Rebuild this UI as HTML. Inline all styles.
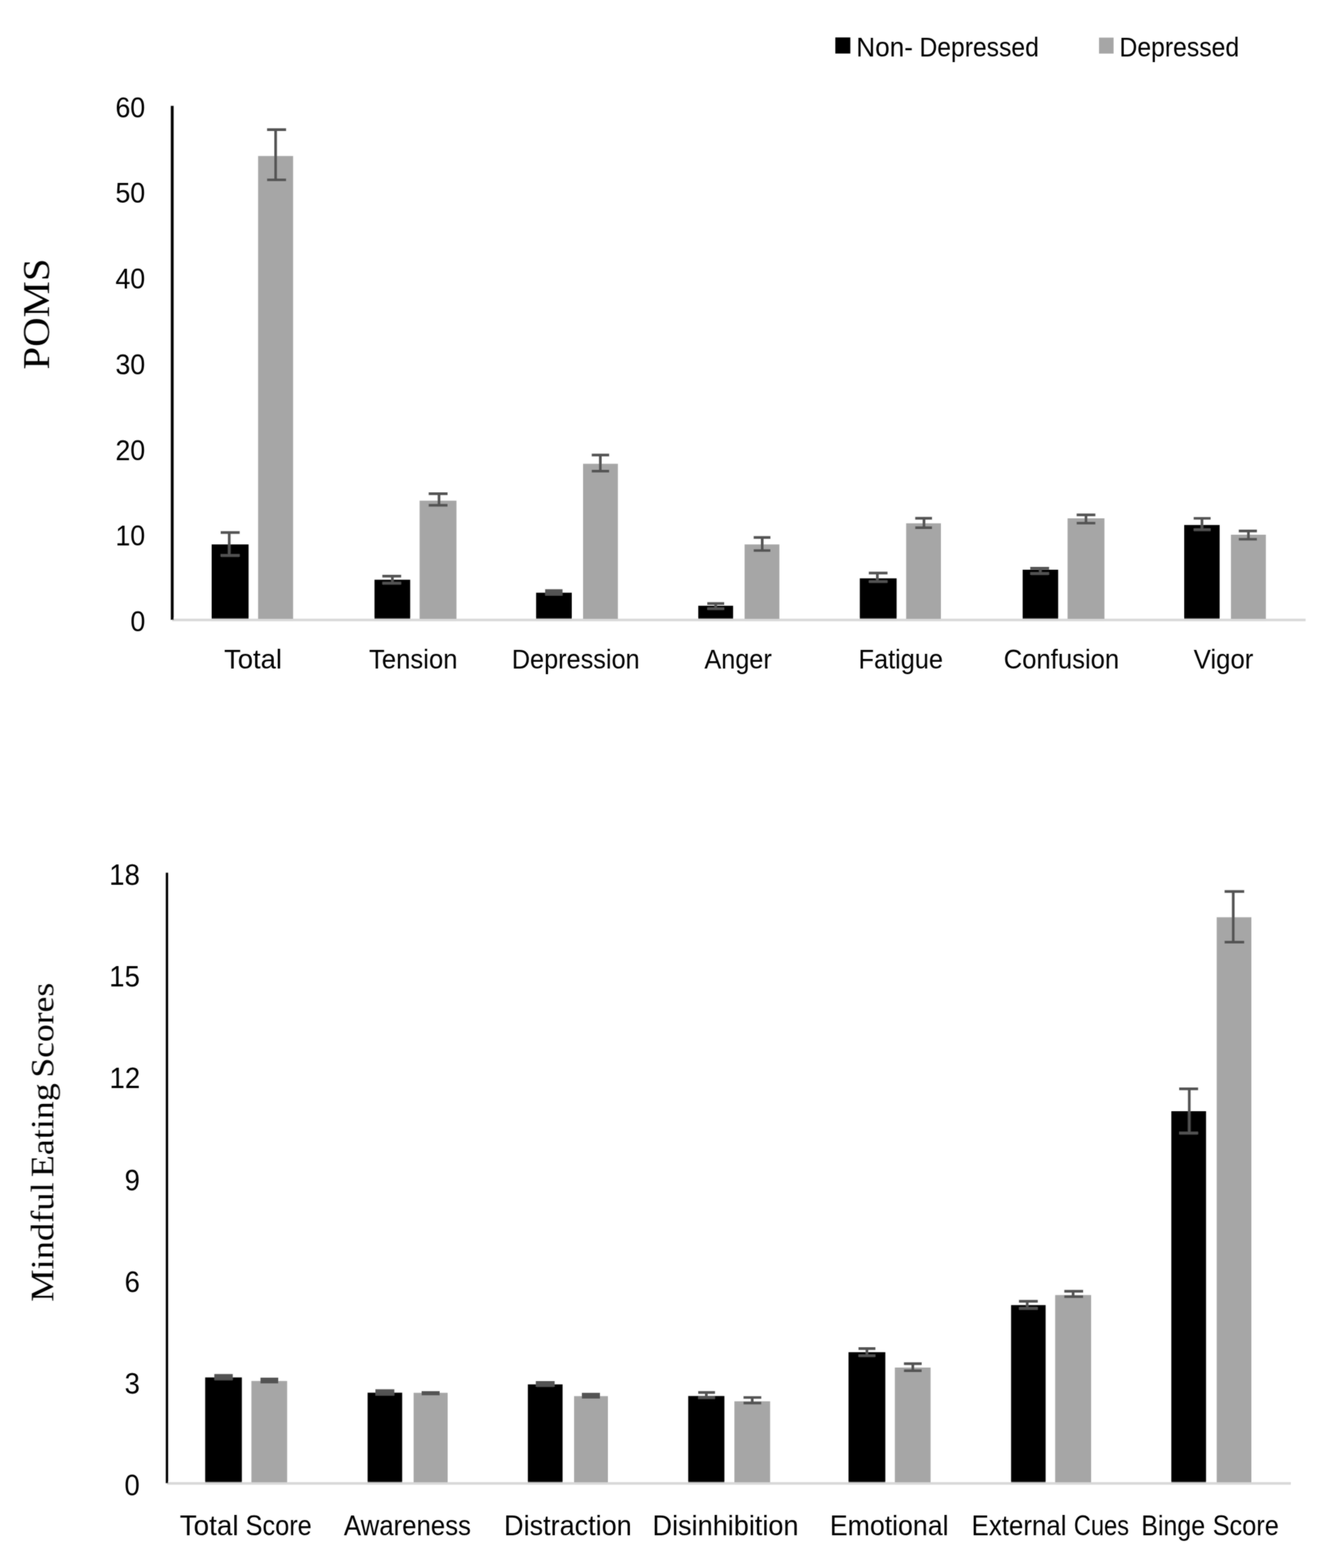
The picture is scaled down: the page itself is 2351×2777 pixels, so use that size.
<!DOCTYPE html>
<html lang="en"><head><meta charset="utf-8"><title>POMS and Mindful Eating Scores by depression group</title>
<style>html,body{margin:0;padding:0;background:#fff}body{width:2351px;height:2777px;overflow:hidden}svg{display:block}text{fill:#000}.t{font-family:'Liberation Sans',sans-serif}.s{font-family:'Liberation Serif',serif}.e path{stroke:#525252;stroke-width:4.7;fill:none}.e .f{stroke:none;fill:#525252}</style></head><body>
<svg width="2351" height="2777" viewBox="0 0 2351 2777" role="img" aria-label="Bar charts of POMS and Mindful Eating Scores for Non-Depressed and Depressed groups">
<rect width="2351" height="2777" fill="#fff"/>
<defs><filter id="soft" filterUnits="userSpaceOnUse" x="0" y="0" width="2351" height="2777"><feGaussianBlur stdDeviation="0.9" result="b"/><feComposite in="SourceGraphic" in2="b" operator="arithmetic" k1="0" k2="0.5" k3="0.5" k4="0"/></filter></defs>
<g filter="url(#soft)">
<g>
<rect x="1479.9" y="66.3" width="26.6" height="28.5" fill="#000"/>
<text class="t" y="100" font-size="48.4"><tspan x="1517.1" lengthAdjust="spacingAndGlyphs" textLength="100.37">Non-</tspan> <tspan x="1628.9" lengthAdjust="spacingAndGlyphs" textLength="211.59">Depressed</tspan></text>
<rect x="1947.1" y="66.6" width="25.8" height="28.3" fill="#a6a6a6"/>
<text class="t" x="1983.19" y="100" font-size="48.4" lengthAdjust="spacingAndGlyphs" textLength="212.2">Depressed</text>
</g>
<g>
<rect x="305.1" y="1095.7" width="2008" height="4.6" fill="#d9d9d9"/>
<rect x="375" y="964.2" width="65.4" height="131.8" fill="#000"/>
<rect x="457.3" y="276.3" width="62" height="819.7" fill="#a6a6a6"/>
<rect x="663.5" y="1026.7" width="63.2" height="69.3" fill="#000"/>
<rect x="743.4" y="886.7" width="65.3" height="209.3" fill="#a6a6a6"/>
<rect x="949.8" y="1049.7" width="63.2" height="46.3" fill="#000"/>
<rect x="1033" y="821.4" width="61.7" height="274.6" fill="#a6a6a6"/>
<rect x="1237.1" y="1072.8" width="61.7" height="23.2" fill="#000"/>
<rect x="1319.2" y="964.2" width="61.6" height="131.8" fill="#a6a6a6"/>
<rect x="1523.3" y="1024.3" width="65.2" height="71.7" fill="#000"/>
<rect x="1605.4" y="926.8" width="61.6" height="169.2" fill="#a6a6a6"/>
<rect x="1811.8" y="1009" width="62.9" height="87" fill="#000"/>
<rect x="1891.4" y="918" width="65.3" height="178" fill="#a6a6a6"/>
<rect x="2098" y="929.8" width="62.8" height="166.2" fill="#000"/>
<rect x="2180.8" y="947" width="61.9" height="149" fill="#a6a6a6"/>
<g class="e">
<path d="M391 943.2H424.6M391 983.7H424.6M406.1 943.2V983.7"/>
<path d="M473.2 229.6H506.8M473.2 318.5H506.8M488.3 229.6V318.5"/>
<path d="M677.4 1020.3H710.7M677.4 1032.8H710.7M695.2 1020.3V1032.8"/>
<path d="M759.5 874.4H792.9M759.5 894.8H792.9M777.8 874.4V894.8"/>
<path class="f" d="M965.8 1043.6H996.6V1054.9H965.8Z"/>
<path d="M1048.4 805.8H1079.2M1048.4 834.3H1079.2M1063.6 805.8V834.3"/>
<path d="M1253.1 1068.9H1283M1253.1 1078H1283M1268 1068.9V1078"/>
<path d="M1335.3 951.9H1364.9M1335.3 975H1364.9M1350.4 951.9V975"/>
<path d="M1539.3 1014.9H1572.4M1539.3 1030H1572.4M1554.4 1014.9V1030"/>
<path d="M1621.5 917.8H1651.2M1621.5 934.6H1651.2M1637 917.8V934.6"/>
<path d="M1825.3 1006.4H1858.6M1825.3 1015.6H1858.6M1843.1 1006.4V1015.6"/>
<path d="M1907.5 911.8H1940.6M1907.5 926.5H1940.6M1924 911.8V926.5"/>
<path d="M2114.8 918H2144.8M2114.8 938.1H2144.8M2129.5 918V938.1"/>
<path d="M2194.7 940.4H2226.8M2194.7 955H2226.8M2211.8 940.4V955"/>
</g>
<rect x="302.6" y="187.5" width="5.0" height="910.2" fill="#000"/>
<text class="t" x="231.03" y="1118.1" font-size="49.5" lengthAdjust="spacingAndGlyphs" textLength="26.43">0</text>
<text class="t" x="204.42" y="966.37" font-size="49.5" lengthAdjust="spacingAndGlyphs" textLength="52.86">10</text>
<text class="t" x="204.42" y="814.64" font-size="49.5" lengthAdjust="spacingAndGlyphs" textLength="52.86">20</text>
<text class="t" x="204.42" y="662.91" font-size="49.5" lengthAdjust="spacingAndGlyphs" textLength="52.86">30</text>
<text class="t" x="204.42" y="511.18" font-size="49.5" lengthAdjust="spacingAndGlyphs" textLength="52.86">40</text>
<text class="t" x="204.42" y="359.45" font-size="49.5" lengthAdjust="spacingAndGlyphs" textLength="52.86">50</text>
<text class="t" x="204.42" y="207.72" font-size="49.5" lengthAdjust="spacingAndGlyphs" textLength="52.86">60</text>
<text class="t" x="396.88" y="1183.5" font-size="48.6" lengthAdjust="spacingAndGlyphs" textLength="102.69">Total</text>
<text class="t" x="653.76" y="1183.5" font-size="48.6" lengthAdjust="spacingAndGlyphs" textLength="156.78">Tension</text>
<text class="t" x="906.72" y="1183.5" font-size="48.6" lengthAdjust="spacingAndGlyphs" textLength="226.51">Depression</text>
<text class="t" x="1247.88" y="1183.5" font-size="48.6" lengthAdjust="spacingAndGlyphs" textLength="119.45">Anger</text>
<text class="t" x="1521.01" y="1183.5" font-size="48.6" lengthAdjust="spacingAndGlyphs" textLength="149.73">Fatigue</text>
<text class="t" x="1778.23" y="1183.5" font-size="48.6" lengthAdjust="spacingAndGlyphs" textLength="204.56">Confusion</text>
<text class="t" x="2114.87" y="1183.5" font-size="48.6" lengthAdjust="spacingAndGlyphs" textLength="105.68">Vigor</text>
</g>
<g>
<rect x="295.8" y="2624.9" width="1991.2" height="4.6" fill="#d9d9d9"/>
<rect x="363.5" y="2439.5" width="65" height="185.7" fill="#000"/>
<rect x="445.4" y="2445.8" width="63.3" height="179.4" fill="#a6a6a6"/>
<rect x="651.3" y="2466.5" width="61.2" height="158.7" fill="#000"/>
<rect x="732.8" y="2466.7" width="60.3" height="158.5" fill="#a6a6a6"/>
<rect x="935.2" y="2451.8" width="61.5" height="173.4" fill="#000"/>
<rect x="1017.1" y="2472.6" width="59.9" height="152.6" fill="#a6a6a6"/>
<rect x="1219.3" y="2472.4" width="64.1" height="152.8" fill="#000"/>
<rect x="1301.1" y="2481.8" width="63.3" height="143.4" fill="#a6a6a6"/>
<rect x="1503.3" y="2394.8" width="65.2" height="230.4" fill="#000"/>
<rect x="1585.4" y="2422" width="63.3" height="203.2" fill="#a6a6a6"/>
<rect x="1791.3" y="2311.4" width="61.2" height="313.8" fill="#000"/>
<rect x="1869.4" y="2293.6" width="63.7" height="331.6" fill="#a6a6a6"/>
<rect x="2075.2" y="1968" width="61.5" height="657.2" fill="#000"/>
<rect x="2155.6" y="1624.5" width="61.4" height="1000.7" fill="#a6a6a6"/>
<g class="e">
<path class="f" d="M379.7 2433.6H412.4V2444.4H379.7Z"/>
<path class="f" d="M461.5 2439.9H492.9V2450.1H461.5Z"/>
<path class="f" d="M665.1 2460.6H698.6V2471.8H665.1Z"/>
<path class="f" d="M747 2463.8H778.9V2471.2H747Z"/>
<path class="f" d="M949.3 2445.9H982.6V2456.1H949.3Z"/>
<path class="f" d="M1030.9 2466.7H1062.9V2477.1H1030.9Z"/>
<path d="M1237 2466.1H1266.7M1237 2475.4H1266.7M1251.4 2466.1V2475.4"/>
<path d="M1317.3 2475H1348.7M1317.3 2484.8H1348.7M1332.7 2475V2484.8"/>
<path d="M1521 2388.3H1550.9M1521 2401H1550.9M1535.9 2388.3V2401"/>
<path d="M1601.5 2415.2H1632.9M1601.5 2427.7H1632.9M1617.2 2415.2V2427.7"/>
<path d="M1805.3 2304.6H1838.6M1805.3 2317.3H1838.6M1819.9 2304.6V2317.3"/>
<path d="M1885.6 2286.9H1918.9M1885.6 2296.5H1918.9M1901.2 2286.9V2296.5"/>
<path d="M2089.1 1928.3H2122.6M2089.1 2006.6H2122.6M2107 1928.3V2006.6"/>
<path d="M2169.6 1578.9H2204.3M2169.6 1668.7H2204.3M2184.9 1578.9V1668.7"/>
</g>
<rect x="293.7" y="1545.6" width="4.2" height="1081.3" fill="#000"/>
<text class="t" x="220.62" y="2647.8" font-size="51" lengthAdjust="spacingAndGlyphs" textLength="27.09">0</text>
<text class="t" x="220.86" y="2467.7" font-size="51" lengthAdjust="spacingAndGlyphs" textLength="27.09">3</text>
<text class="t" x="220.86" y="2287.6" font-size="51" lengthAdjust="spacingAndGlyphs" textLength="27.09">6</text>
<text class="t" x="220.86" y="2107.5" font-size="51" lengthAdjust="spacingAndGlyphs" textLength="27.09">9</text>
<text class="t" x="194.07" y="1927.4" font-size="51" lengthAdjust="spacingAndGlyphs" textLength="54.18">12</text>
<text class="t" x="193.59" y="1747.3" font-size="51" lengthAdjust="spacingAndGlyphs" textLength="54.18">15</text>
<text class="t" x="193.59" y="1567.2" font-size="51" lengthAdjust="spacingAndGlyphs" textLength="54.18">18</text>
<text class="t" y="2719.4" font-size="50.8"><tspan x="318.47" lengthAdjust="spacingAndGlyphs" textLength="104.15">Total</tspan> <tspan x="435.08" lengthAdjust="spacingAndGlyphs" textLength="117.22">Score</tspan></text>
<text class="t" x="609.27" y="2719.4" font-size="50.8" lengthAdjust="spacingAndGlyphs" textLength="225.2">Awareness</text>
<text class="t" x="893.07" y="2719.4" font-size="50.8" lengthAdjust="spacingAndGlyphs" textLength="226.08">Distraction</text>
<text class="t" x="1156.06" y="2719.4" font-size="50.8" lengthAdjust="spacingAndGlyphs" textLength="258.63">Disinhibition</text>
<text class="t" x="1470.22" y="2719.4" font-size="50.8" lengthAdjust="spacingAndGlyphs" textLength="210.24">Emotional</text>
<text class="t" y="2719.4" font-size="50.8"><tspan x="1721.33" lengthAdjust="spacingAndGlyphs" textLength="168.11">External</tspan> <tspan x="1902.4" lengthAdjust="spacingAndGlyphs" textLength="97.95">Cues</tspan></text>
<text class="t" y="2719.4" font-size="50.8"><tspan x="2021.96" lengthAdjust="spacingAndGlyphs" textLength="113.02">Binge</tspan> <tspan x="2148.38" lengthAdjust="spacingAndGlyphs" textLength="117.32">Score</tspan></text>
</g>
<text class="s" x="-654.47" y="0" font-size="68.2" lengthAdjust="spacingAndGlyphs" textLength="196.56" transform="translate(86.8 0) rotate(-90)">POMS</text>
<text class="s" y="0" font-size="58" transform="translate(94.4 0) rotate(-90)"><tspan x="-2305.64" lengthAdjust="spacingAndGlyphs" textLength="211.49">Mindful</tspan> <tspan x="-2084.71" lengthAdjust="spacingAndGlyphs" textLength="166.21">Eating</tspan> <tspan x="-1908.5" lengthAdjust="spacingAndGlyphs" textLength="167.96">Scores</tspan></text>
</g>
</svg></body></html>
